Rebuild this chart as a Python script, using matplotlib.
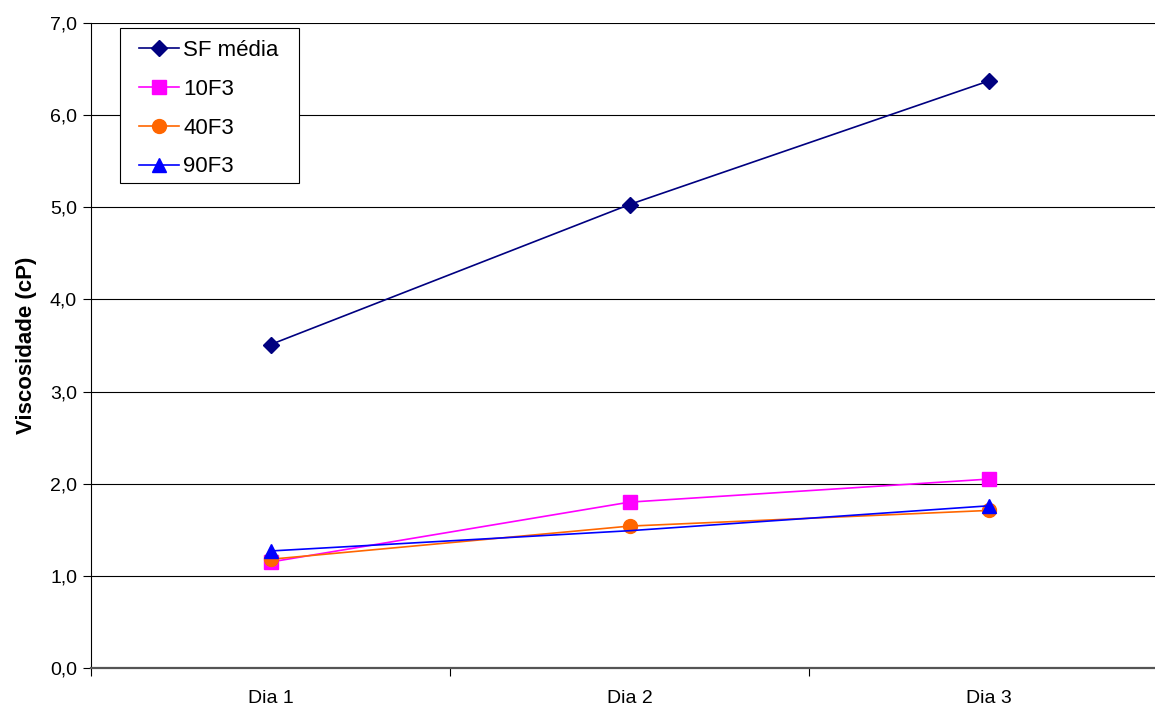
import matplotlib
matplotlib.use("Agg")
import matplotlib.pyplot as plt
from matplotlib.patches import Rectangle
from matplotlib.ticker import FixedLocator, FuncFormatter

plt.rcParams["font.family"] = ["Liberation Sans", "DejaVu Sans"]

# data
dias = ["Dia 1", "Dia 2", "Dia 3"]
sf_media = [3.51, 5.03, 6.37]
f10 = [1.15, 1.80, 2.05]
f40 = [1.18, 1.54, 1.71]
f90 = [1.27, 1.49, 1.76]

W, H = 1155, 707
fig = plt.figure(figsize=(W / 100, H / 100), dpi=100, facecolor="white")
ax = fig.add_axes([91 / W, 1 - 668 / H, (1168 - 91) / W, (668 - 23) / H])

x = list(range(len(dias)))
ax.plot(x, sf_media, color="#000080", marker="D", ms=8, lw=1.2, label="SF média", zorder=3)
ax.plot(x, f10, color="#FF00FF", marker="s", ms=10, lw=1.2, label="10F3", zorder=4)
ax.plot(x, f40, color="#FF6600", marker="o", ms=10, lw=1.2, label="40F3", zorder=5)
ax.plot(x, f90, color="#0000FF", marker="^", ms=10, lw=1.2, label="90F3",
        markevery=[0, 2], zorder=6)

ax.set_xlim(-0.5, 2.5)
ax.set_ylim(0, 7)
ax.set_yticks([0, 1, 2, 3, 4, 5, 6, 7])
ax.yaxis.set_major_formatter(FuncFormatter(lambda v, p: f"{v:.1f}".replace(".", ",")))
ax.set_xticks(x)
ax.set_xticklabels(dias, fontsize=14)
ax.xaxis.set_minor_locator(FixedLocator([-0.5, 0.5, 1.5, 2.5]))
ax.tick_params(axis="x", which="major", length=0, pad=16)
ax.tick_params(axis="x", which="minor", length=6, width=0.8, direction="out")
ax.tick_params(axis="y", length=6, width=0.8, direction="out", labelsize=14, pad=4)

ax.grid(axis="y", color="black", lw=0.8)
ax.set_axisbelow(True)
for side in ["top", "right"]:
    ax.spines[side].set_visible(False)
ax.spines["left"].set_color("black")
ax.spines["left"].set_linewidth(0.8)
ax.spines["bottom"].set_color("#555555")
ax.spines["bottom"].set_linewidth(1.6)

ax.set_ylabel("Viscosidade (cP)", fontsize=16, fontweight="bold", labelpad=9)

# legend box drawn by hand, entries placed inside it
fig.patches.append(Rectangle((120 / W, 1 - 183 / H), 179 / W, 155 / H,
                             transform=fig.transFigure, facecolor="white",
                             edgecolor="black", lw=0.8, zorder=10))
leg = fig.legend(loc="upper left", bbox_to_anchor=(139 / W, 1 - 40 / H),
                 fontsize=16, frameon=False, handlelength=1.8, handletextpad=0.2,
                 labelspacing=0.8, borderpad=0, borderaxespad=0)
leg.set_zorder(11)

fig.savefig("out.png", dpi=100, facecolor="white")
